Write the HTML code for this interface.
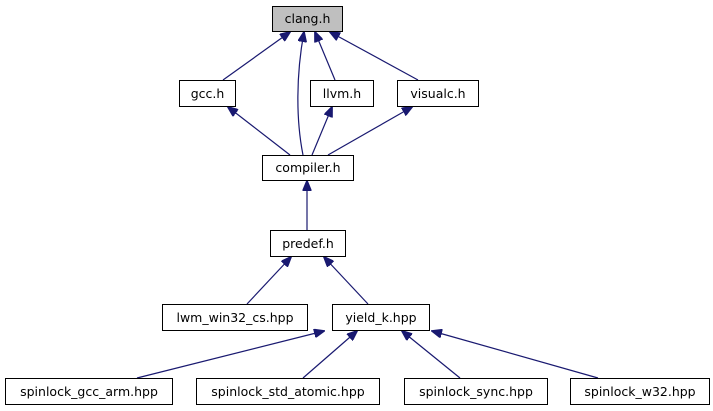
<!DOCTYPE html>
<html><head><meta charset="utf-8"><style>
html,body{margin:0;padding:0;background:#fff;}
svg{display:block;}
text{font-family:"DejaVu Sans","Liberation Sans",sans-serif;font-size:12.5px;fill:#000;}
</style></head><body>
<svg width="713" height="411" viewBox="0 0 713 411" xmlns="http://www.w3.org/2000/svg">
<defs>
<marker id="a" markerWidth="11" markerHeight="9" refX="10" refY="4.5" orient="auto" markerUnits="userSpaceOnUse">
<path d="M0,0 L11,4.5 L0,9 Z" fill="#191970" stroke="#191970"/>
</marker>
</defs>
<g stroke="#191970" stroke-width="1.2" fill="none" marker-end="url(#a)">
<line x1="223" y1="80" x2="290" y2="32"/>
<path d="M303,155 C296,120 296,75 304,32"/>
<line x1="335" y1="80" x2="315" y2="32"/>
<line x1="418" y1="80" x2="330" y2="32"/>
<line x1="290" y1="155" x2="228" y2="107"/>
<line x1="312" y1="155" x2="332" y2="107"/>
<line x1="328" y1="155" x2="412" y2="107"/>
<line x1="307" y1="230" x2="307" y2="181"/>
<line x1="247" y1="304" x2="291" y2="257"/>
<line x1="368" y1="304" x2="324" y2="257"/>
<line x1="137" y1="378" x2="324" y2="331"/>
<line x1="303" y1="378" x2="357" y2="331"/>
<line x1="460" y1="378" x2="402" y2="331"/>
<line x1="598" y1="378" x2="432" y2="331"/>
</g>
<g stroke="#000" stroke-width="1" fill="#fff">
<rect x="272.5" y="6.5" width="70" height="25" fill="#bfbfbf"/>
<rect x="179.5" y="80.5" width="56" height="26"/>
<rect x="310.5" y="80.5" width="63" height="26"/>
<rect x="397.5" y="80.5" width="81" height="26"/>
<rect x="262.5" y="155.5" width="91" height="25"/>
<rect x="270.5" y="230.5" width="75" height="26"/>
<rect x="162.5" y="304.5" width="145" height="26"/>
<rect x="332.5" y="304.5" width="97" height="26"/>
<rect x="5.5" y="378.5" width="167" height="26"/>
<rect x="196.5" y="378.5" width="183" height="26"/>
<rect x="404.5" y="378.5" width="143" height="26"/>
<rect x="570.5" y="378.5" width="139" height="26"/>
</g>
<g text-anchor="middle">
<text x="307.5" y="23">clang.h</text>
<text x="207.5" y="98">gcc.h</text>
<text x="342" y="98">llvm.h</text>
<text x="438" y="98">visualc.h</text>
<text x="308" y="172">compiler.h</text>
<text x="308" y="248">predef.h</text>
<text x="235" y="322">lwm_win32_cs.hpp</text>
<text x="381" y="322">yield_k.hpp</text>
<text x="89" y="396">spinlock_gcc_arm.hpp</text>
<text x="288" y="396">spinlock_std_atomic.hpp</text>
<text x="476" y="396">spinlock_sync.hpp</text>
<text x="640" y="396">spinlock_w32.hpp</text>
</g>
</svg>
</body></html>
